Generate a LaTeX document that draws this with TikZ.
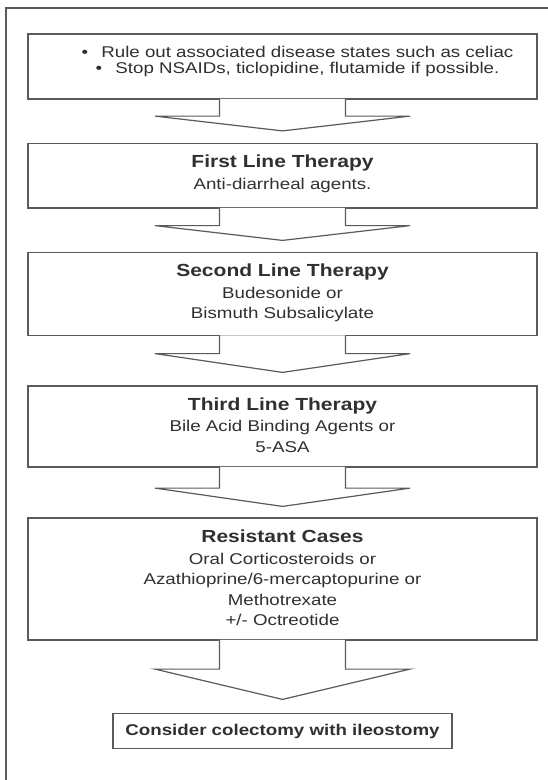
\documentclass[tikz,border=0pt]{standalone}
\usepackage{fontspec}
\setmainfont{Liberation Sans}
\usetikzlibrary{calc}
\definecolor{linegray}{HTML}{5A5A5A}
\definecolor{textgray}{HTML}{303030}
\tikzset{
  x=1pt, y=1pt,
  box/.style={draw=linegray, line width=1.2pt, fill=white, minimum width=509pt, inner sep=0pt},
  txt/.style={text=textgray, align=center, inner sep=0pt, xscale=1.2, transform shape, font=\fontsize{15.6}{20.5}\selectfont},
  bullettxt/.style={text=textgray, align=center, inner sep=0pt, xscale=1.2, transform shape, font=\fontsize{15.6}{15.5}\selectfont},
  arr/.style={draw=linegray, line width=1.2pt, fill=white, line join=miter},
  frameline/.style={draw=linegray, line width=1.8pt}
}
\newcommand{\hd}[1]{{\fontsize{17.5}{20}\selectfont\bfseries #1}\\[1pt]}
% #1 source node, #2 target node, #3 stem length, #4 gap between tip and target
\newcommand{\flowarrow}[4]{%
  \filldraw[arr] ([xshift=-63,yshift=0.8]#1.south) -- ([xshift=-63,yshift=-#3]#1.south)
    -- ([xshift=-127.5,yshift=-#3]#1.south) -- ([yshift=#4]#2.north)
    -- ([xshift=127.5,yshift=-#3]#1.south) -- ([xshift=63,yshift=-#3]#1.south)
    -- ([xshift=63,yshift=0.8]#1.south);}
\begin{document}
\begin{tikzpicture}
\useasboundingbox (0,0) rectangle (548,-780);
\fill[white] (0,0) rectangle (548,-780);
% outer frame (only top and left edges visible)
\coordinate (fr1) at (548,-8);
\coordinate (fr2) at (6,-8);
\coordinate (fr3) at (6,-780);
\draw[frameline] (fr1) -- (fr2) -- (fr3);
% boxes
\node[box, minimum height=65pt] (b1) at (282.5,-66.5) {};
\node[box, minimum height=64.5pt] (b2) at (282.5,-175.75) {};
\node[box, minimum height=83pt] (b3) at (282.5,-294) {};
\node[box, minimum height=81pt] (b4) at (282.5,-426.5) {};
\node[box, minimum height=122pt] (b5) at (282.5,-579) {};
\node[box, minimum width=339pt, minimum height=35pt] (b6) at (282.5,-731) {};
% texts
\begin{scope}[shift={(297.5,-61.5)}]
\node[bullettxt] (t1) {\textbullet\hspace{11pt}Rule out associated disease states such as celiac\\
  \textbullet\hspace{11pt}Stop NSAIDs, ticlopidine, flutamide if possible.};
\end{scope}
\begin{scope}[shift={(282.5,-174)}]
\node[txt] (t2) {\hd{First Line Therapy} Anti-diarrheal agents.};
\end{scope}
\begin{scope}[shift={(282.5,-293)}]
\node[txt] (t3) {\hd{Second Line Therapy} Budesonide or\\ Bismuth Subsalicylate};
\end{scope}
\begin{scope}[shift={(282.5,-425)}]
\node[txt] (t4) {\hd{Third Line Therapy} Bile Acid Binding Agents or\\ 5-ASA};
\end{scope}
\begin{scope}[shift={(282.5,-578)}]
\node[txt] (t5) {\hd{Resistant Cases} Oral Corticosteroids or\\ Azathioprine/6-mercaptopurine or\\ Methotrexate\\ +/- Octreotide};
\end{scope}
\begin{scope}[shift={(282.5,-731)}]
\node[txt, font=\fontsize{15.6}{20}\selectfont\bfseries] (t6) {Consider colectomy with ileostomy};
\end{scope}
% arrows
\flowarrow{b1}{b2}{16.5}{12}
\flowarrow{b2}{b3}{17}{11.5}
\flowarrow{b3}{b4}{17.5}{13}
\flowarrow{b4}{b5}{20.5}{11}
\flowarrow{b5}{b6}{28.5}{13.5}
\end{tikzpicture}
\end{document}
